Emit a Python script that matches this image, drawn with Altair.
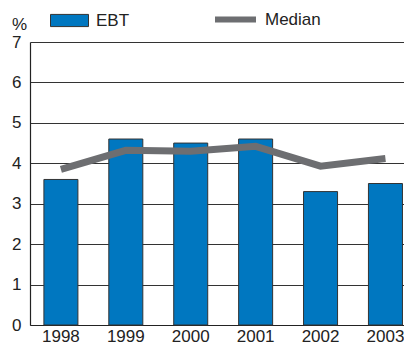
import altair as alt
import pandas as pd

years = ["1998", "1999", "2000", "2001", "2002", "2003"]
ebt = [3.6, 4.6, 4.5, 4.6, 3.3, 3.5]
median = [3.85, 4.32, 4.3, 4.42, 3.93, 4.12]

df = pd.DataFrame({"year": years, "ebt": ebt, "median": median,
                   "s1": ["EBT"] * 6, "s2": ["Median"] * 6})

FONT = "Liberation Sans"
FS = 17
x = alt.X("year:N", title=None,
          scale=alt.Scale(paddingInner=0.476, paddingOuter=0.119, align=0.9),
          axis=alt.Axis(labelAngle=0, labelFontSize=FS, labelColor="#222",
                        labelFont=FONT, ticks=False, labelPadding=3,
                        domainColor="#222", domainWidth=1.2))
yscale = alt.Scale(domain=[0, 7], nice=False)

bars = alt.Chart(df).mark_bar(stroke="#333", strokeWidth=1).encode(
    x=x,
    y=alt.Y("ebt:Q", scale=yscale, title="%",
            axis=alt.Axis(values=[0, 1, 2, 3, 4, 5, 6, 7], ticks=False,
                          labelFontSize=FS, labelColor="#222", labelFont=FONT,
                          labelPadding=9, gridColor="#333", gridWidth=1,
                          domainColor="#222", domainWidth=1.2,
                          titleAngle=0, titleX=-11, titleY=-13,
                          titleFontSize=FS, titleFontWeight="normal",
                          titleFont=FONT, titleColor="#222",
                          titleAlign="center", titleBaseline="alphabetic")),
    fill=alt.Fill("s1:N", title=None,
                  scale=alt.Scale(domain=["EBT"], range=["#0077c0"]),
                  legend=alt.Legend(orient="none", legendX=20, legendY=-41,
                                    symbolType="M-1,-0.32L1,-0.32L1,0.32L-1,0.32Z",
                                    symbolSize=1444, symbolStrokeColor="#333",
                                    symbolStrokeWidth=1, labelFontSize=FS,
                                    labelFont=FONT, labelColor="#222",
                                    labelOffset=7, padding=0)),
)

line = alt.Chart(df).mark_line(strokeWidth=7, strokeCap="butt").encode(
    x=alt.X("year:N"),
    y=alt.Y("median:Q", scale=yscale),
    stroke=alt.Stroke("s2:N", title=None,
                      scale=alt.Scale(domain=["Median"], range=["#6d6e71"]),
                      legend=alt.Legend(orient="none", legendX=182, legendY=-46,
                                        symbolType="stroke", symbolSize=1681,
                                        symbolStrokeWidth=6, labelFontSize=FS,
                                        labelFont=FONT, labelColor="#222",
                                        labelOffset=6, padding=0)),
)

chart = alt.layer(bars, line).resolve_legend(fill="independent", stroke="independent").properties(
    width=374, height=283,
    autosize=alt.AutoSizeParams(type="none"),
    padding={"left": 22, "top": 34, "right": 0, "bottom": 18},
).configure_view(stroke=None).configure_axis(grid=True).configure_axisX(grid=False)

chart.save("out.html", embed_options={"renderer": "svg", "actions": False})
